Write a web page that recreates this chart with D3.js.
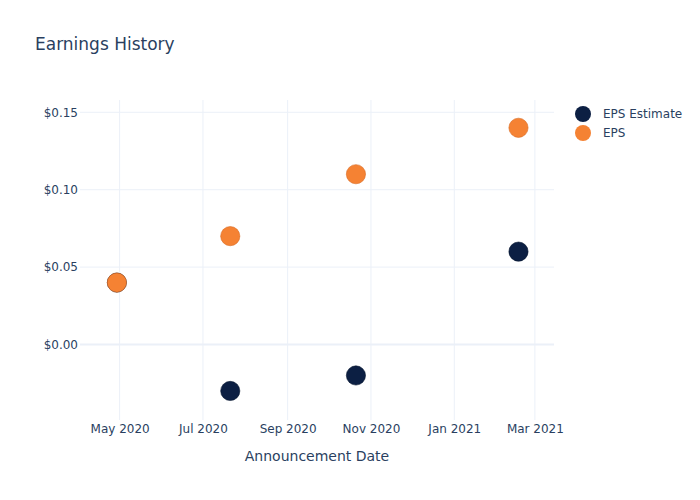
<!DOCTYPE html>
<html><head><meta charset="utf-8">
<script src="https://cdn.jsdelivr.net/npm/d3@7"></script>
<style>body{margin:0;background:#fff;} svg{font-family:"DejaVu Sans",Verdana,sans-serif;}</style>
</head><body>
<svg id="chart" width="700" height="500"></svg>
<script>
const dates = ["2020-04-29","2020-07-21","2020-10-21","2021-02-17"];
const epsEstimate = [0.04, -0.03, -0.02, 0.06];
const eps = [0.04, 0.07, 0.11, 0.14];
const seriesNames = ["EPS Estimate","EPS"];
const seriesColors = ["#0c1f43","#f58233"];
const yTicks = [0, 0.05, 0.10, 0.15];
const xTicks = ["2020-05-01","2020-07-01","2020-09-01","2020-11-01","2021-01-01","2021-03-01"];

const parse = d3.utcParse("%Y-%m-%d");
const svg = d3.select("#chart");
const L = 80, R = 554, T = 100, B = 420;
const x = d3.scaleUtc().domain([parse("2020-04-02"), parse("2021-03-15")]).range([L, R]);
const y = d3.scaleLinear().domain([-0.04877, 0.15795]).range([B, T]);
const txt = "#2a3f5f", grid = "#ebf0f8";

svg.append("text").attr("x",35).attr("y",50).attr("font-size",17).attr("fill",txt).text("Earnings History");

const g = svg.append("g");
g.selectAll(".vg").data(xTicks).join("line")
  .attr("x1",d=>x(parse(d))).attr("x2",d=>x(parse(d))).attr("y1",T).attr("y2",B)
  .attr("stroke",grid).attr("stroke-width",1);
g.selectAll(".hg").data(yTicks).join("line")
  .attr("x1",L).attr("x2",R).attr("y1",d=>y(d)).attr("y2",d=>y(d))
  .attr("stroke",grid).attr("stroke-width",d=>d===0?2:1);

const yAxis = d3.axisLeft(y).tickValues(yTicks).tickSize(0).tickPadding(0).tickFormat(d=>"$"+d.toFixed(2));
const ya = svg.append("g").attr("transform",`translate(${L-2},0)`).call(yAxis);
ya.attr("font-family",null).attr("font-size",12);
ya.select(".domain").remove();
ya.selectAll("text").attr("fill",txt);

const xAxis = d3.axisBottom(x).tickValues(xTicks.map(parse)).tickSize(0).tickPadding(0).tickFormat(d3.utcFormat("%b %Y"));
const xa = svg.append("g").attr("transform",`translate(0,${B+4})`).call(xAxis);
xa.attr("font-family",null).attr("font-size",12);
xa.select(".domain").remove();
xa.selectAll("text").attr("fill",txt).attr("dy","0.71em");

svg.append("text").attr("x",(L+R)/2).attr("y",461).attr("text-anchor","middle")
  .attr("font-size",14).attr("fill",txt).text("Announcement Date");

const series = [epsEstimate, eps];
series.forEach((vals,i)=>{
  svg.append("g").selectAll("circle").data(vals).join("circle")
    .attr("cx",(d,j)=>x(parse(dates[j]))).attr("cy",d=>y(d)).attr("r",9.6)
    .attr("fill",seriesColors[i]).attr("stroke",i===1?"#d86a22":"#06152f").attr("stroke-width",0.6);
});

const lg = svg.append("g");
seriesNames.forEach((n,i)=>{
  lg.append("circle").attr("cx",583).attr("cy",114+i*19).attr("r",8).attr("fill",seriesColors[i]);
  lg.append("text").attr("x",603).attr("y",114+i*19).attr("dy","0.35em").attr("font-size",12).attr("fill",txt).text(n);
});
</script>
</body></html>
